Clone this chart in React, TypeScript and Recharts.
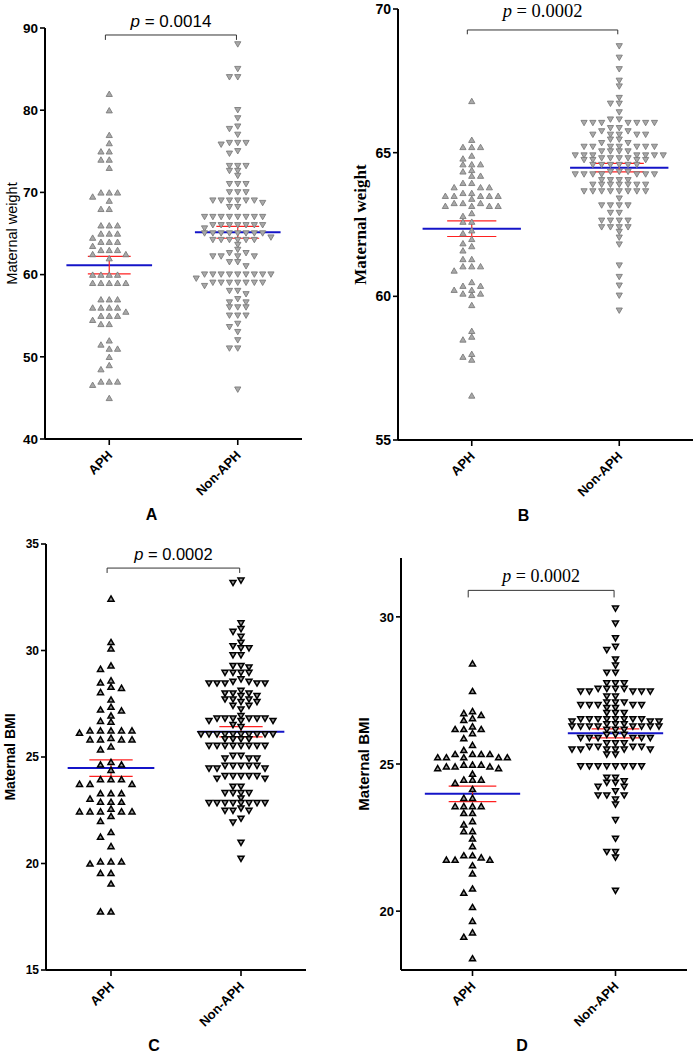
import { ScatterChart, Scatter, XAxis, YAxis, ReferenceLine } from 'recharts';

const groups = ['APH', 'Non-APH'];

// A: maternal weight (kg)
const weightAphA = [
  82, 80, 77, 76, 75, 75, 74, 74, 73, 70, 70, 70, 69.5, 69, 68, 68, 66, 66, 66, 65, 65, 65, 64.5,
  64, 64, 64, 63.5, 63, 63, 63, 62.5, 62.5, 62, 60, 60, 60, 60, 59, 59, 59, 59, 59, 57, 57, 57,
  56, 56, 56, 56, 55.5, 55, 55, 55, 54.5, 54, 54, 52, 51.5, 51, 51, 50, 49, 48.5, 47, 47, 47, 46.6, 45,
];
const weightNonAphA = [
  88, 85, 84, 84, 80, 79, 78, 77.7, 77, 76, 76, 76, 75.8, 75, 74.7, 73.2, 73.2, 73.2, 72.6, 72.6,
  72, 71, 71, 71, 70, 70, 70, 69, 69, 69, 69, 69, 69, 68.7, 68.2, 68.2,
  67, 67, 67, 67, 67, 67, 67, 67, 66, 66, 66, 66, 66, 66, 66, 65.6,
  65, 65, 65, 65, 65, 65, 65, 65, 64.5, 64.2, 64.2, 64.2, 64.2, 64.2, 64.2, 63.6, 63, 62.6, 62.6,
  62.2, 62.2, 62.2, 62.2, 61.5, 61.5, 61, 60, 60, 60, 60, 60, 60, 60, 60, 60, 59.5,
  59, 59, 59, 59, 59, 59, 59, 58.6, 58, 58, 57.6, 57, 56.6, 56.6, 56, 56, 56, 55, 55, 55,
  54, 53.6, 53, 52, 51, 51, 46,
];

// B: maternal weight, second cohort
const weightAphB = [
  66.8, 65.45, 65.2, 65.2, 65.2, 64.9, 64.8, 64.6, 64.6, 64.6, 64.4, 64.35, 64.2, 64.2, 63.95, 63.95,
  63.8, 63.8, 63.8, 63.6, 63.6, 63.5, 63.5, 63.5, 63.5, 63.5, 63.4, 63.25, 63.25, 63.25,
  63.15, 63.15, 63.15, 63.15, 62.9, 62.8, 62.6, 62.6, 62.3, 62.2, 62.0, 61.85, 61.75, 61.6,
  61.3, 61.3, 61.05, 61.05, 61.05, 60.9, 60.5, 60.37, 60.37, 60.23, 60.23, 60.1, 60.1, 60.05,
  59.7, 58.8, 58.6, 58.5, 58.0, 57.9, 57.8, 56.55,
];
const weightNonAphB = [
  68.7, 68.3, 67.9, 67.5, 67.3, 66.9, 66.7, 66.7, 66.4, 66.15, 66.15,
  66.03, 66.03, 66.03, 66.03, 66.03, 66.03, 66.03, 65.85, 65.85, 65.74, 65.74,
  65.62, 65.62, 65.62, 65.62, 65.62, 65.45, 65.45, 65.33, 65.33,
  65.2, 65.2, 65.2, 65.2, 65.2, 65.2, 65.2, 65.04, 65.04, 65.04, 65.04,
  64.9, 64.9, 64.9, 64.9, 64.9, 64.9, 64.9, 64.8, 64.8, 64.8, 64.8, 64.74, 64.74, 64.74, 64.74,
  64.57, 64.57, 64.57, 64.57, 64.57, 64.57, 64.33, 64.33, 64.33,
  64.24, 64.24, 64.24, 64.24, 64.24, 64.24, 64.24, 64.04, 64.04, 64.04, 64.04,
  63.88, 63.88, 63.88, 63.88, 63.88, 63.88, 63.88,
  63.65, 63.65, 63.65, 63.65, 63.65, 63.65, 63.65, 63.65, 63.4, 63.16, 63.16, 63.16, 63.16,
  62.9, 62.9, 62.63, 62.63, 62.63, 62.63, 62.4, 62.4, 62.4, 62.4, 62.24, 62.04, 61.8,
  61.07, 60.67, 60.37, 60.02, 59.5,
];

// C: maternal BMI
const bmiAphC = [
  32.44, 30.4, 30.1, 29.3, 29.14, 28.6, 28.5, 28.3, 28.25, 28.05, 27.7, 27.36, 27.23, 27.19, 26.95,
  26.7, 26.66, 26.25, 26.25, 26.25, 26.25, 26.25, 26.14, 25.9, 25.83, 25.83, 25.83, 25.83, 25.5, 25.36,
  24.77, 24.65, 24.65, 24.4, 23.96, 23.96, 23.96, 23.74, 23.74, 23.74, 23.3, 23.3, 23.3, 23.05,
  22.9, 22.9, 22.9, 22.58, 22.45, 22.45, 22.45, 22.45, 22.45, 22.23, 22.0, 21.48, 21.26, 20.82,
  20.1, 20.1, 20.1, 20.0, 19.56, 19.56, 19.06, 17.75, 17.75,
];
const bmiNonAphC = [
  33.28, 33.17, 31.27, 31.0, 30.87, 30.64, 30.36, 30.2, 30.1, 30.1, 29.77, 29.77, 29.27, 29.27, 29.2,
  28.95, 28.95, 28.95, 28.95, 28.64, 28.53, 28.53, 28.45, 28.45, 28.45, 28.45, 28.45, 28.1,
  27.98, 27.98, 27.98, 27.86, 27.86, 27.7, 27.7, 27.7, 27.58, 27.58, 27.4, 27.4, 27.23, 26.92,
  26.8, 26.8, 26.8, 26.8, 26.8, 26.8, 26.69, 26.69, 26.69, 26.5, 26.4,
  26.06, 26.06, 26.06, 26.06, 26.06, 26.06, 26.06, 26.06, 26.06, 26.06, 25.83, 25.83, 25.83, 25.83,
  25.52, 25.52, 25.52, 25.52, 25.52, 25.52, 25.52, 25.52, 25.05, 25.05, 24.92, 24.92, 24.92,
  24.58, 24.58, 24.58, 24.58, 24.58, 24.45, 24.45, 24.45, 24.1, 24.1, 24.1, 24.1, 24.1, 23.98, 23.98,
  23.6, 23.6, 23.3, 23.3, 23.3, 23.3, 23.05, 22.83, 22.83, 22.83, 22.83, 22.83, 22.83, 22.83, 22.83,
  22.58, 22.47, 22.47, 22.47, 22.1, 21.92, 20.97, 20.22,
];

// D: maternal BMI, second cohort
const bmiAphD = [
  28.42, 27.48, 26.8, 26.73, 26.67, 26.56, 26.5, 26.28, 26.19, 26.19, 26.19, 26.05, 25.88, 25.65, 25.48,
  25.34, 25.34, 25.34, 25.34, 25.23, 25.23, 25.23, 25.23, 25.23, 24.98, 24.98, 24.98, 24.92, 24.92, 24.92,
  24.86, 24.86, 24.67, 24.47, 24.47, 24.47, 24.36, 24.15, 23.85, 23.85, 23.57, 23.57, 23.57, 23.57,
  23.34, 23.34, 23.06, 22.95, 22.72, 22.72, 22.47, 22.21, 21.9, 21.9, 21.83, 21.75, 21.75, 21.75,
  21.56, 21.28, 20.77, 20.63, 20.14, 19.67, 19.28, 19.13, 18.4,
];
const bmiNonAphD = [
  30.28, 29.77, 29.27, 28.98, 28.87, 28.55, 28.34, 28.1, 28.1, 27.74, 27.74, 27.74,
  27.55, 27.55, 27.55, 27.55, 27.46, 27.46, 27.46, 27.46, 27.46, 27.29, 27.29, 27.09, 27.09, 27.09,
  27.0, 27.0, 27.0, 27.0, 27.0, 26.9, 26.9, 26.73, 26.73, 26.73,
  26.52, 26.52, 26.52, 26.52, 26.52, 26.52, 26.52, 26.52, 26.44, 26.44, 26.44, 26.35, 26.35, 26.35,
  26.27, 26.27, 26.27, 26.27, 26.27, 26.27, 26.27, 26.27, 26.16, 26.16, 26.16, 25.99, 25.99, 25.99,
  25.88, 25.88, 25.88, 25.88, 25.88, 25.88, 25.7, 25.7, 25.7, 25.58, 25.58, 25.58, 25.58,
  25.49, 25.49, 25.49, 25.49, 25.49, 25.49, 25.32, 25.32,
  24.92, 24.92, 24.92, 24.92, 24.92, 24.92, 24.92, 24.92, 24.53, 24.53, 24.41, 24.36, 24.36,
  24.22, 24.22, 24.07, 23.93, 23.93, 23.93, 23.79, 23.62, 23.09, 22.46, 22.01, 22.01, 21.82, 20.69,
];

const pValues = ['0.0014', '0.0002', '0.0002', '0.0002'];
const ticksA = [40, 50, 60, 70, 80, 90];
const ticksB = [55, 60, 65, 70];
const ticksC = [15, 20, 25, 30, 35];
const ticksD = [20, 25, 30];

const SANS = '"Liberation Sans", Arial, sans-serif';
const SERIF = '"Liberation Serif", "Times New Roman", serif';
const X_H = 60;

type Cfg = {
  letter: string;
  title: string;
  aph: number[];
  nonAph: number[];
  p: string;
  domain: [number, number];
  ticks: number[];
  box: { left: number; top: number; width: number; height: number };
  margin: { top: number; right: number; left: number; bottom: number };
  yWidth: number;
  titleFont: string;
  titleWeight: string;
  titleSize: number;
  titleX: number;
  pFont: string;
  pSize: number;
  pGap: number;
  tickFont: number;
  bracketY: number;
  bracketLeg: number;
  dark: boolean;
  pitch: [number, number];
  markH: [number, number];
};

// simple grid beeswarm: each point takes the nearest free column (0, -1, +1, -2, ...)
function swarm(values: number[], center: number, pitchX: number, rowY: number) {
  const placed: { v: number; c: number }[] = [];
  const order = values.map((_, i) => i).sort((a, b) => values[b] - values[a]);
  const out: { x: number; y: number }[] = new Array(values.length);
  for (const i of order) {
    const v = values[i];
    let k = 0;
    let c = 0;
    while (true) {
      c = k === 0 ? 0 : k % 2 ? -(k + 1) / 2 : k / 2;
      if (!placed.some((p) => p.c === c && Math.abs(p.v - v) < rowY)) break;
      k++;
    }
    placed.push({ v, c });
    out[i] = { x: center + c * pitchX, y: v };
  }
  return out;
}

function stats(vals: number[]) {
  const n = vals.length;
  const mean = vals.reduce((s, v) => s + v, 0) / n;
  const sd = Math.sqrt(vals.reduce((s, v) => s + (v - mean) ** 2, 0) / (n - 1));
  return { mean, sem: sd / Math.sqrt(n) };
}

const triangle = (down: boolean, dark: boolean) => (props: any) => {
  const { cx, cy } = props;
  if (cx == null || cy == null) return <g />;
  const w = dark ? 6 : 6.2;
  const h = dark ? 5.2 : 5.4;
  const s = down ? -1 : 1;
  const d = `M${cx},${cy - (s * h) / 2}L${cx + w / 2},${cy + (s * h) / 2}L${cx - w / 2},${cy + (s * h) / 2}Z`;
  return dark ? (
    <path d={d} fill="#9a9a9a" stroke="#000" strokeWidth={1.5} strokeLinejoin="miter" />
  ) : (
    <path d={d} fill="#a9a9a9" stroke="#7c7c7c" strokeWidth={0.9} />
  );
};

const CatTick = (props: any) => {
  const { x, y, payload } = props;
  const tx = x + 4;
  const ty = y + 9;
  return (
    <text
      x={tx}
      y={ty}
      transform={`rotate(-45, ${tx}, ${ty})`}
      textAnchor="end"
      fontFamily={SANS}
      fontWeight="bold"
      fontSize={13}
      fill="#000"
    >
      {groups[payload.value - 1]}
    </text>
  );
};

const ValueTick = (props: any) => {
  const { x, y, payload, size } = props;
  return (
    <text x={x} y={y} dy={size * 0.36} textAnchor="end" fontFamily={SANS} fontWeight="bold" fontSize={size} fill="#000">
      {payload.value}
    </text>
  );
};

function Panel({ cfg }: { cfg: Cfg }) {
  const { box, margin } = cfg;
  const plotW = box.width - margin.left - margin.right - cfg.yWidth;
  const plotH = box.height - margin.top - margin.bottom - X_H;
  const pxPerX = plotW / 2;
  const pxPerY = plotH / (cfg.domain[1] - cfg.domain[0]);
  const aphPts = swarm(cfg.aph, 1, cfg.pitch[0] / pxPerX, cfg.markH[0] / pxPerY);
  const nonPts = swarm(cfg.nonAph, 2, cfg.pitch[1] / pxPerX, cfg.markH[1] / pxPerY);
  const summaries = [stats(cfg.aph), stats(cfg.nonAph)];

  const meanLines: any[] = [];
  const semLines: any[] = [];
  summaries.forEach((s, i) => {
    const cx = i + 1;
    meanLines.push([{ x: cx - 1 / 3, y: s.mean }, { x: cx + 1 / 3, y: s.mean }]);
    semLines.push([{ x: cx, y: s.mean - s.sem }, { x: cx, y: s.mean + s.sem }]);
    semLines.push([{ x: cx - 1 / 6, y: s.mean + s.sem }, { x: cx + 1 / 6, y: s.mean + s.sem }]);
    semLines.push([{ x: cx - 1 / 6, y: s.mean - s.sem }, { x: cx + 1 / 6, y: s.mean - s.sem }]);
  });

  const bx1 = 0.97;
  const bx2 = 1.99;
  const by = cfg.bracketY;
  const legY = by - cfg.bracketLeg;

  const pLabel = (p: any) => {
    const vb = p.viewBox || {};
    const x = (vb.x ?? 0) + (vb.width ?? 0) / 2;
    const y = (vb.y ?? 0) - cfg.pGap;
    return (
      <text x={x} y={y} textAnchor="middle" fontFamily={cfg.pFont} fontSize={cfg.pSize} fill="#000">
        <tspan fontStyle="italic">p</tspan> = {cfg.p}
      </text>
    );
  };

  const titleLabel = (p: any) => {
    const vb = p.viewBox || {};
    const cx = cfg.titleX;
    const cy = (vb.y ?? 0) + (vb.height ?? 0) / 2;
    return (
      <text
        x={cx}
        y={cy}
        transform={`rotate(-90, ${cx}, ${cy})`}
        textAnchor="middle"
        dominantBaseline="central"
        fontFamily={cfg.titleFont}
        fontWeight={cfg.titleWeight}
        fontSize={cfg.titleSize}
        fill="#000"
      >
        {cfg.title}
      </text>
    );
  };

  const letterLabel = (p: any) => {
    const vb = p.viewBox || {};
    const x = (vb.x ?? 0) + (vb.width ?? 0) / 2 - 22;
    const y = (vb.y ?? 0) + 81;
    return (
      <text x={x} y={y} textAnchor="middle" fontFamily={SANS} fontWeight="bold" fontSize={16} fill="#000">
        {cfg.letter}
      </text>
    );
  };

  return (
    <div style={{ position: 'absolute', left: box.left, top: box.top }}>
      <ScatterChart width={box.width} height={box.height} margin={margin}>
        <XAxis
          type="number"
          dataKey="x"
          domain={[0.5, 2.5]}
          ticks={[1, 2]}
          allowDataOverflow
          height={X_H}
          axisLine={{ stroke: '#000', strokeWidth: 2 }}
          tickLine={{ stroke: '#000', strokeWidth: 1.6 }}
          tickSize={6}
          tick={<CatTick />}
          label={letterLabel}
        />
        <YAxis
          type="number"
          dataKey="y"
          domain={cfg.domain}
          ticks={cfg.ticks}
          allowDataOverflow
          width={cfg.yWidth}
          axisLine={{ stroke: '#000', strokeWidth: 2 }}
          tickLine={{ stroke: '#000', strokeWidth: 1.6 }}
          tickSize={5}
          tickMargin={2}
          tick={<ValueTick size={cfg.tickFont} />}
          label={titleLabel}
        />
        <Scatter data={aphPts} shape={triangle(false, cfg.dark)} isAnimationActive={false} />
        <Scatter data={nonPts} shape={triangle(true, cfg.dark)} isAnimationActive={false} />
        {meanLines.map((seg, i) => (
          <ReferenceLine key={`m${i}`} segment={seg} stroke="#1414c8" strokeWidth={2} ifOverflow="visible" />
        ))}
        {semLines.map((seg, i) => (
          <ReferenceLine key={`s${i}`} segment={seg} stroke="#ff2020" strokeWidth={1.2} ifOverflow="visible" />
        ))}
        <ReferenceLine
          segment={[{ x: bx1, y: by }, { x: bx2, y: by }]}
          stroke="#333"
          strokeWidth={1}
          ifOverflow="visible"
          label={pLabel}
        />
        <ReferenceLine segment={[{ x: bx1, y: by }, { x: bx1, y: legY }]} stroke="#333" strokeWidth={1} ifOverflow="visible" />
        <ReferenceLine segment={[{ x: bx2, y: by }, { x: bx2, y: legY }]} stroke="#333" strokeWidth={1} ifOverflow="visible" />
      </ScatterChart>
    </div>
  );
}

const panels: Cfg[] = [
  {
    letter: 'A', title: 'Maternal weight', aph: weightAphA, nonAph: weightNonAphA, p: pValues[0],
    domain: [40, 90], ticks: ticksA,
    box: { left: 0, top: 0, width: 348, height: 525 },
    margin: { top: 28, right: 46, left: 0, bottom: 26 }, yWidth: 45,
    titleFont: SANS, titleWeight: 'normal', titleSize: 14.5, titleX: 12,
    pFont: SANS, pSize: 17, pGap: 8, tickFont: 13.5,
    bracketY: 89.15, bracketLeg: 0.6, dark: false, pitch: [8.3, 8.3], markH: [5.5, 4.5],
  },
  {
    letter: 'B', title: 'Maternal weight', aph: weightAphB, nonAph: weightNonAphB, p: pValues[1],
    domain: [55, 70], ticks: ticksB,
    box: { left: 348, top: 0, width: 348, height: 525 },
    margin: { top: 9, right: 3, left: 0, bottom: 25 }, yWidth: 50,
    titleFont: SERIF, titleWeight: 'bold', titleSize: 17, titleX: 12,
    pFont: SERIF, pSize: 18.5, pGap: 13, tickFont: 14,
    bracketY: 69.27, bracketLeg: 0.15, dark: false, pitch: [8.8, 8.8], markH: [5, 4.2],
  },
  {
    letter: 'C', title: 'Maternal BMI', aph: bmiAphC, nonAph: bmiNonAphC, p: pValues[2],
    domain: [15, 35], ticks: ticksC,
    box: { left: 0, top: 525, width: 348, height: 528 },
    margin: { top: 19, right: 42, left: 0, bottom: 23 }, yWidth: 46,
    titleFont: SANS, titleWeight: 'bold', titleSize: 14, titleX: 10,
    pFont: SANS, pSize: 16.5, pGap: 8, tickFont: 12,
    bracketY: 33.87, bracketLeg: 0.23, dark: true, pitch: [10.5, 8], markH: [5.5, 4.5],
  },
  {
    letter: 'D', title: 'Maternal BMI', aph: bmiAphD, nonAph: bmiNonAphD, p: pValues[3],
    domain: [18, 32], ticks: ticksD,
    box: { left: 348, top: 525, width: 348, height: 528 },
    margin: { top: 33, right: 9, left: 0, bottom: 23 }, yWidth: 53,
    titleFont: SANS, titleWeight: 'bold', titleSize: 15, titleX: 15,
    pFont: SERIF, pSize: 18, pGap: 8, tickFont: 13,
    bracketY: 30.9, bracketLeg: 0.24, dark: true, pitch: [8.7, 8.7], markH: [5.5, 4.5],
  },
];

export default function App() {
  return (
    <div style={{ position: 'absolute', left: 0, top: 0, width: 696, height: 1053, background: '#fff' }}>
      {panels.map((cfg) => (
        <Panel key={cfg.letter} cfg={cfg} />
      ))}
    </div>
  );
}
